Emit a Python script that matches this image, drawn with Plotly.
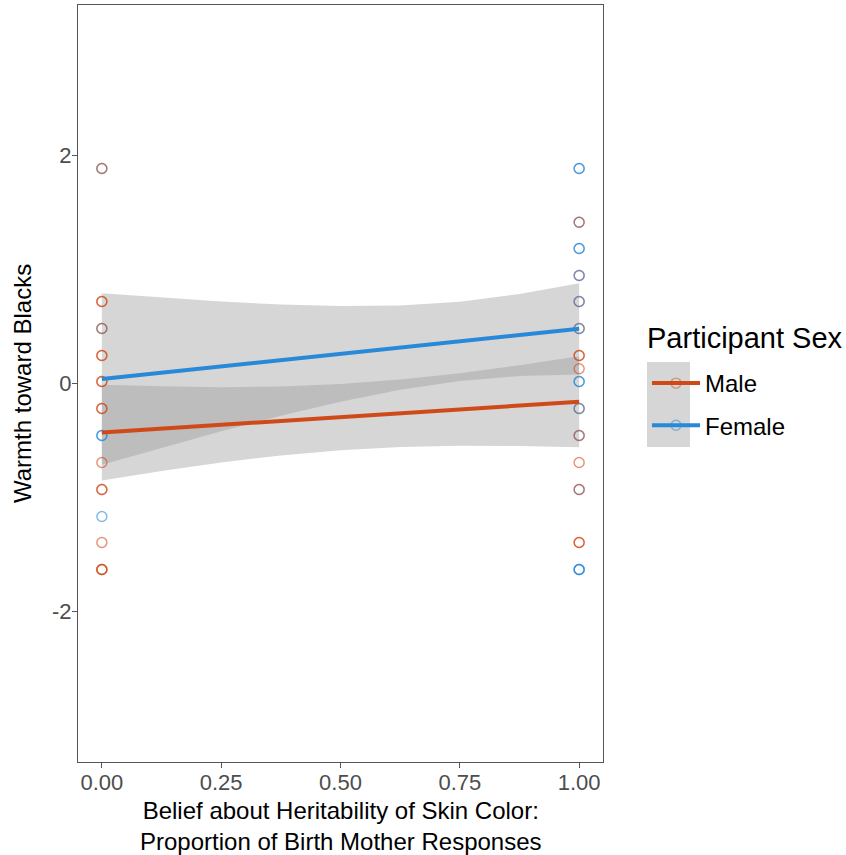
import plotly.graph_objects as go

# ---------------- data ----------------
# individual responses (x = proportion of birth-mother responses, y = warmth), in drawing order
pts_x = [0, 0, 0, 0, 0, 0, 0, 0, 0, 0, 0, 0, 0, 0, 0, 0, 0, 0, 0, 0, 0, 0,
         1, 1, 1, 1, 1, 1, 1, 1, 1, 1, 1, 1, 1, 1, 1, 1, 1, 1, 1, 1, 1, 1, 1, 1, 1, 1, 1, 1, 1]
pts_y = [1.886, 1.886, 0.719, 0.719, 0.482, 0.482, 0.246, 0.246, 0.018, 0.018,
         -0.219, -0.219, -0.456, -0.456, -0.693, -0.93, -0.93, -1.167, -1.395,
         -1.632, -1.632, -1.632,
         1.886, 1.886, 1.415, 1.415, 1.184, 1.184, 0.947, 0.947, 0.719, 0.719,
         0.482, 0.482, 0.246, 0.246, 0.13, 0.018, 0.018, -0.219, -0.219,
         -0.456, -0.456, -0.693, -0.93, -0.93, -1.395, -1.395, -1.632, -1.632, -1.632]
pts_sex = ["F", "M", "M", "M", "F", "M", "M", "M", "M", "M",
           "M", "M", "F", "F", "M", "M", "M", "F", "M",
           "M", "M", "M",
           "F", "F", "F", "M", "F", "F", "M", "F", "M", "F",
           "M", "F", "M", "M", "M", "F", "F", "M", "F",
           "F", "M", "M", "F", "M", "M", "M", "F", "F", "F"]

# fitted linear model and 95% CI band, read at these x positions
fit_x = [0, 0.125, 0.25, 0.375, 0.5, 0.625, 0.75, 0.875, 1]
male_fit = [-0.43, -0.396, -0.3625, -0.329, -0.295, -0.261, -0.2275, -0.194, -0.16]
male_lo = [-0.85, -0.767, -0.6925, -0.631, -0.585, -0.557, -0.5455, -0.548, -0.56]
male_hi = [-0.01, -0.025, -0.0325, -0.027, -0.005, 0.035, 0.0905, 0.16, 0.24]
female_fit = [0.04, 0.095, 0.15, 0.205, 0.26, 0.315, 0.37, 0.425, 0.48]
female_lo = [-0.712, -0.563, -0.419, -0.283, -0.16, -0.055, 0.022, 0.066, 0.08]
female_hi = [0.792, 0.753, 0.719, 0.693, 0.68, 0.685, 0.718, 0.784, 0.88]

x_ticks = [0, 0.25, 0.5, 0.75, 1]
x_tick_labels = ["0.00", "0.25", "0.50", "0.75", "1.00"]
y_ticks = [-2, 0, 2]
y_tick_labels = ["-2", "0", "2"]

sex_names = {"M": "Male", "F": "Female"}
sex_colors = {"M": "#CF4A19", "F": "#2889D8"}

FONT = "Liberation Sans, Arial, sans-serif"
BAND = "rgba(153,153,153,0.4)"

# plot area in pixels
L, R, T, B = 78, 603, 5, 762
W, H = 846, 855
PW, PH = R - L, B - T


def px_x(p):
    return (p - L) / PW


def px_y(p):
    return (B - p) / PH


fig = go.Figure()

# CI bands
for lo, hi in [(male_lo, male_hi), (female_lo, female_hi)]:
    fig.add_trace(go.Scatter(x=fit_x + fit_x[::-1], y=hi + lo[::-1], fill="toself",
                             fillcolor=BAND, line=dict(width=0), mode="lines",
                             hoverinfo="skip", showlegend=False))

# points
fig.add_trace(go.Scatter(
    x=pts_x, y=pts_y, mode="markers", showlegend=False,
    marker=dict(symbol="circle-open", size=10, opacity=0.6,
                color=[sex_colors[s] for s in pts_sex],
                line=dict(width=1.4, color=[sex_colors[s] for s in pts_sex]))))

# fitted lines (with legend entries)
for key, fit in [("M", male_fit), ("F", female_fit)]:
    fig.add_trace(go.Scatter(
        x=fit_x, y=fit, mode="lines", name=sex_names[key],
        line=dict(color=sex_colors[key], width=4), showlegend=False))
    fig.add_trace(go.Scatter(
        x=[None], y=[None], mode="lines+markers", name=sex_names[key],
        legendgroup=key,
        line=dict(color=sex_colors[key], width=4),
        marker=dict(symbol="circle-open", size=10, opacity=0.5,
                    color=sex_colors[key], line=dict(width=1.4))))

axis_common = dict(showgrid=False, zeroline=False, showline=True, mirror=True,
                   automargin=False,
                   linecolor="#555555", linewidth=1.2, ticks="outside", ticklen=5,
                   tickcolor="#555555", tickwidth=1.2,
                   tickfont=dict(family=FONT, size=22, color="#4D4D4D"))

fig.update_layout(
    width=W, height=H,
    margin=dict(l=L, r=W - R, t=T, b=H - B),
    paper_bgcolor="white", plot_bgcolor="white",
    xaxis=dict(range=[-0.05, 1.05], tickvals=x_ticks, ticktext=x_tick_labels,
               ticklabelstandoff=-5, **axis_common),
    yaxis=dict(range=[-3.32, 3.32], tickvals=y_ticks, ticktext=y_tick_labels,
               ticklabelstandoff=-4, **axis_common),
    legend=dict(x=px_x(647), y=px_y(361), xanchor="left", yanchor="top",
                font=dict(family=FONT, size=24, color="black"),
                bgcolor="rgba(0,0,0,0)", tracegroupgap=8, itemwidth=48),
    shapes=[dict(type="rect", xref="paper", yref="paper",
                 x0=px_x(647), x1=px_x(690),
                 y0=px_y(447), y1=px_y(362),
                 fillcolor="#D6D6D6", line=dict(width=0), layer="below")],
    annotations=[
        dict(text="Belief about Heritability of Skin Color:<br>Proportion of Birth Mother Responses",
             xref="paper", yref="paper", x=px_x(341), y=px_y(826),
             xanchor="center", yanchor="middle", showarrow=False,
             font=dict(family=FONT, size=24, color="black")),
        dict(text="Warmth toward Blacks", textangle=-90,
             xref="paper", yref="paper", x=px_x(22), y=px_y(384),
             xanchor="center", yanchor="middle", showarrow=False,
             font=dict(family=FONT, size=24, color="black")),
        dict(text="Participant Sex",
             xref="paper", yref="paper", x=px_x(645), y=px_y(338),
             xanchor="left", yanchor="middle", showarrow=False,
             font=dict(family=FONT, size=29, color="black")),
    ],
)

fig.write_html("out.html", config={"displayModeBar": False},
               post_script="document.body.style.margin='0px';")
